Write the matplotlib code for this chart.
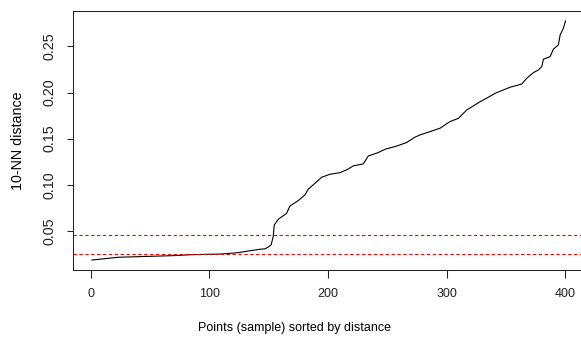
import matplotlib.pyplot as plt

plt.rcParams['font.family'] = ['Liberation Sans', 'DejaVu Sans']

# sorted 10-NN distances at key points
idx = [1, 23, 68, 85, 110, 124, 142, 147, 150, 152, 153.7, 154.6, 158, 165,
       167.8, 174.8, 180.4, 183.2, 188.9, 194.5, 201.5, 210, 217, 221, 229.6,
       233.8, 242, 248, 257.8, 266, 273, 277.4, 294.3, 302.7, 309.7, 316.8,
       328, 342, 353.3, 360.3, 363.2, 367.4, 373, 377.2, 380, 381.4, 387,
       389.8, 394, 395.5, 398.2, 400]
dist = [0.0184, 0.0214, 0.0231, 0.0242, 0.0249, 0.0264, 0.0300, 0.0306,
        0.0329, 0.0350, 0.0437, 0.0564, 0.0626, 0.0690, 0.0770, 0.0828,
        0.0889, 0.0951, 0.1016, 0.1081, 0.1114, 0.1131, 0.1171, 0.1204,
        0.1226, 0.1312, 0.1348, 0.1385, 0.1420, 0.1457, 0.1515, 0.1540,
        0.1613, 0.1685, 0.1720, 0.1811, 0.1900, 0.1999, 0.2057, 0.2082,
        0.2093, 0.2155, 0.2216, 0.2245, 0.2281, 0.2361, 0.2389, 0.2470,
        0.2516, 0.2625, 0.2697, 0.2777]
eps_lines = [0.045, 0.025]

fig = plt.figure(figsize=(5.81, 3.38), dpi=100)
ax = fig.add_axes([0.1256, 0.2012, 0.8804, 0.7663])

ax.plot(idx, dist, color='black', linewidth=0.8)
for e in eps_lines:
    ax.axhline(e, color='red', linestyle=(0, (3, 2.3)), linewidth=0.8)

ax.set_xlim(-15, 416)
ax.set_ylim(0.0076, 0.2884)
ax.set_xticks([0, 100, 200, 300, 400])
ax.set_yticks([0.05, 0.10, 0.15, 0.20, 0.25])
ax.set_yticklabels(['0.05', '0.10', '0.15', '0.20', '0.25'], rotation=90, va='center')

ax.tick_params(axis='x', labelsize=9, length=5.8, width=0.75, pad=7.5, colors='#222222')
ax.tick_params(axis='y', labelsize=10.3, length=4, width=0.75, pad=8, colors='#222222')
for s in ax.spines.values():
    s.set_linewidth(0.75)
    s.set_color('#222222')

ax.set_xlabel('Points (sample) sorted by distance', fontsize=9)
ax.xaxis.set_label_coords(0.434, -0.2)
ax.set_ylabel('10-NN distance', fontsize=10.3)
ax.yaxis.set_label_coords(-0.094, 0.5)

fig.savefig('out.png', dpi=100)
